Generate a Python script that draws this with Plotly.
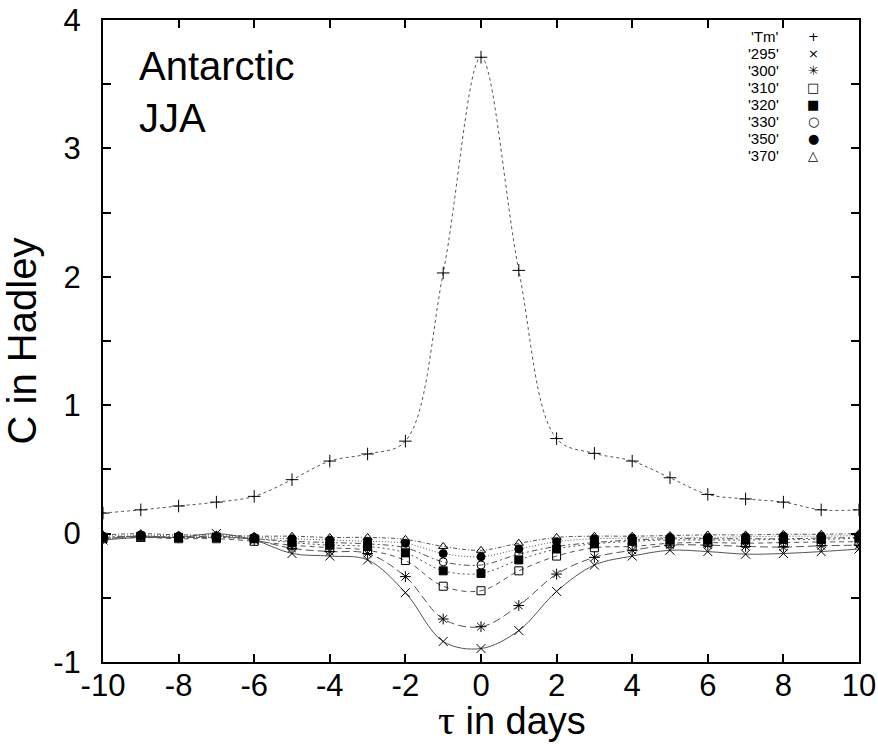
import plotly.graph_objects as go

tau = list(range(-10, 11))

tm = [0.16, 0.185, 0.215, 0.245, 0.29, 0.42, 0.565, 0.62, 0.72, 2.03, 3.71,
      2.05, 0.74, 0.625, 0.565, 0.435, 0.305, 0.27, 0.245, 0.185, 0.185]
c295 = [-0.05, -0.03, -0.03, 0.0, -0.05, -0.155, -0.175, -0.205, -0.46, -0.84, -0.895,
        -0.755, -0.45, -0.245, -0.175, -0.13, -0.14, -0.16, -0.155, -0.14, -0.12]
c300 = [-0.04, -0.02, -0.03, -0.02, -0.05, -0.115, -0.14, -0.155, -0.335, -0.665, -0.725,
        -0.56, -0.315, -0.185, -0.13, -0.09, -0.09, -0.10, -0.105, -0.095, -0.09]
c310 = [-0.04, -0.03, -0.04, -0.04, -0.06, -0.09, -0.11, -0.13, -0.21, -0.41, -0.445,
        -0.29, -0.175, -0.11, -0.10, -0.075, -0.07, -0.075, -0.07, -0.065, -0.063]
c320 = [-0.03, -0.02, -0.03, -0.03, -0.04, -0.07, -0.09, -0.10, -0.15, -0.29, -0.31,
        -0.205, -0.12, -0.08, -0.06, -0.05, -0.05, -0.05, -0.045, -0.045, -0.035]
c330 = [-0.03, -0.02, -0.03, -0.03, -0.04, -0.06, -0.07, -0.08, -0.11, -0.22, -0.245,
        -0.16, -0.10, -0.07, -0.05, -0.04, -0.04, -0.04, -0.04, -0.035, -0.03]
c350 = [-0.02, -0.01, -0.02, -0.02, -0.03, -0.04, -0.05, -0.06, -0.075, -0.155, -0.18,
        -0.12, -0.063, -0.04, -0.035, -0.03, -0.03, -0.025, -0.02, -0.02, -0.015]
c370 = [-0.01, 0.0, -0.01, -0.01, -0.02, -0.02, -0.03, -0.03, -0.045, -0.10, -0.13,
        -0.075, -0.03, -0.02, -0.02, -0.015, -0.01, -0.01, -0.005, -0.005, 0.0]

names = ["'Tm'", "'295'", "'300'", "'310'", "'320'", "'330'", "'350'", "'370'"]
series = [tm, c295, c300, c310, c320, c330, c350, c370]
symbols = ["cross-thin", "x-thin", "asterisk", "square-open", "square",
           "circle-open", "circle", "triangle-up-open"]
legend_glyphs = ["+", "×", "✳", "□", "■", "○", "●", "△"]
sizes = [9, 9, 9, 8, 8, 8, 8, 8]
dashes = ["3px,3px", "solid", "8px,4px", "5px,4px", "2px,3px",
          "6px,3px,2px,3px", "1px,2px", "4px,2px,1px,2px"]

x_ticks = list(range(-10, 11, 2))
x_ticktext = [str(v) for v in x_ticks]
y_ticks = [-1, 0, 1, 2, 3, 4]
y_ticktext = [str(v) for v in y_ticks]

fig = go.Figure()
for name, ys, dsh in zip(names, series, dashes):
    fig.add_trace(go.Scatter(
        x=tau, y=ys, mode="lines", showlegend=False,
        line=dict(color="#555555", width=1, dash=dsh, shape="spline", smoothing=1.0),
        hoverinfo="skip"))
for name, ys, sym, sz in zip(names, series, symbols, sizes):
    fig.add_trace(go.Scatter(
        x=tau, y=ys, mode="markers", name=name, showlegend=False,
        marker=dict(symbol=sym, size=sz, color="black",
                    line=dict(color="black", width=1))))

axis_common = dict(
    showline=True, linecolor="black", linewidth=2, mirror="ticks",
    ticks="inside", ticklen=8, tickwidth=1.5, tickcolor="black",
    showgrid=False, zeroline=False, automargin=False,
    tickfont=dict(family="Liberation Sans, Arial, sans-serif", size=31, color="black"),
)

plot_left, plot_w = 103, 756
plot_top, plot_h = 20, 642


def px(xpix):
    return (xpix - plot_left) / plot_w


def py(ypix):
    return (plot_top + plot_h - ypix) / plot_h


# manual legend (labels right-aligned, symbol to the right, as in the original)
annotations = []
for i, (name, glyph) in enumerate(zip(names, legend_glyphs)):
    ypix = 37 + 16.9 * i
    annotations.append(dict(text=name, x=px(781), y=py(ypix), xref="paper", yref="paper",
                            xanchor="right", yanchor="middle", showarrow=False,
                            font=dict(size=15, color="black")))
    annotations.append(dict(text=glyph, x=px(813), y=py(ypix), xref="paper", yref="paper",
                            xanchor="center", yanchor="middle", showarrow=False,
                            font=dict(family="DejaVu Sans", size=13, color="black")))

annotations.append(dict(text="Antarctic<br>JJA", x=px(137), y=py(42), xref="paper", yref="paper",
                        xanchor="left", yanchor="top", showarrow=False, align="left",
                        font=dict(size=40, color="black")))

# x-axis title
annotations.append(dict(
    text="<span style='font-family:Liberation Serif;font-size:42px'>τ</span> in days",
    x=px(512), y=py(744), xref="paper", yref="paper",
    xanchor="center", yanchor="bottom", showarrow=False, borderpad=0,
    font=dict(size=38, color="black")))

fig.update_layout(
    width=878, height=744,
    margin=dict(l=103, r=19, t=20, b=82),
    paper_bgcolor="white", plot_bgcolor="white",
    font=dict(family="Liberation Sans, Arial, sans-serif", color="black"),
    showlegend=False,
    xaxis=dict(range=[-10, 10], tickvals=x_ticks, ticktext=x_ticktext,
               ticklabelstandoff=-5, **axis_common),
    yaxis=dict(range=[-1, 4], tickvals=y_ticks, ticktext=y_ticktext,
               minor=dict(dtick=0.5, tick0=0, ticks="inside", ticklen=8,
                          tickcolor="black", tickwidth=1.5),
               title=dict(text="C in Hadley", font=dict(size=40), standoff=6),
               ticklabelstandoff=14, **axis_common),
    annotations=annotations,
)

fig.write_html("out.html")
